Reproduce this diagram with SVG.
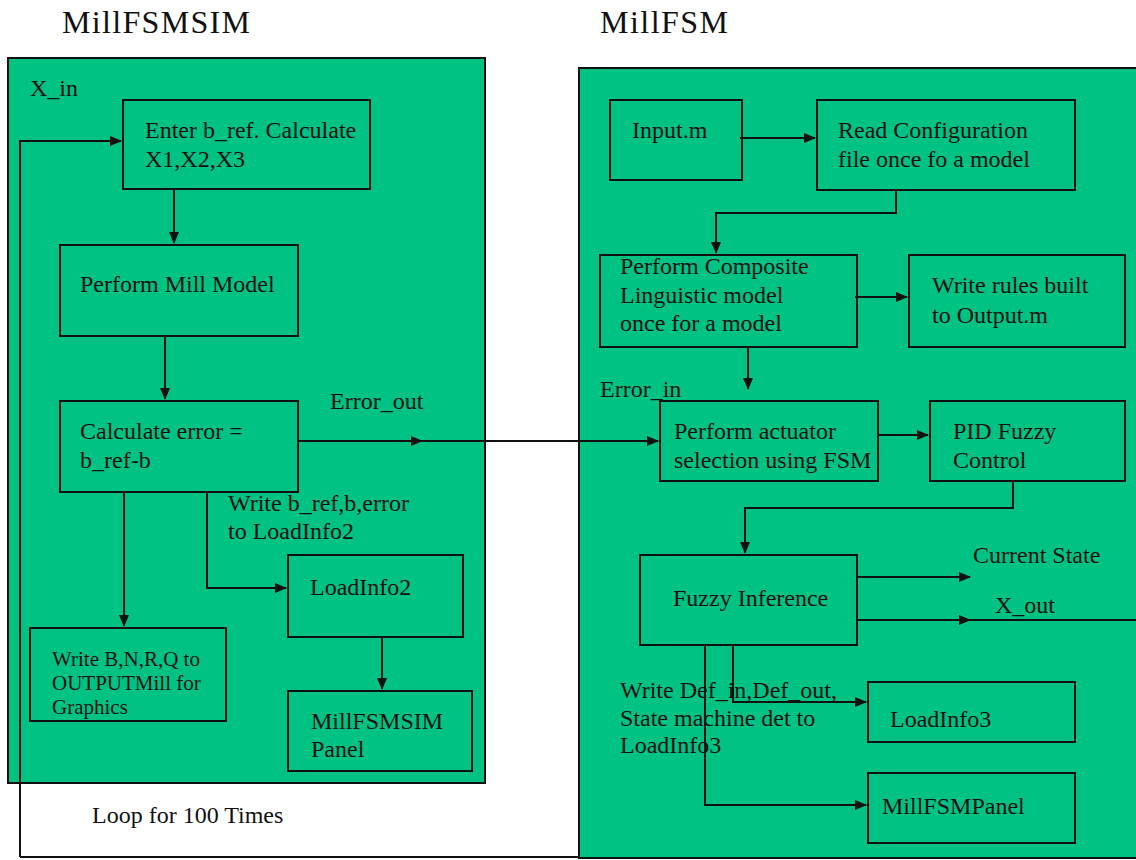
<svg xmlns="http://www.w3.org/2000/svg" width="1136" height="860" viewBox="0 0 1136 860">
<defs>
<style>
.panel{fill:#00C283;stroke:#111;stroke-width:2}
.box{fill:#00C283;stroke:#111;stroke-width:2}
.t{font-family:"Liberation Serif","Times New Roman",serif;font-size:24px;fill:#111}
.s{font-size:21px}
.title{font-family:"Liberation Serif","Times New Roman",serif;font-size:32px;fill:#111}
.c{fill:none;stroke:#111;stroke-width:2}
</style>
<marker id="ah" markerWidth="12" markerHeight="10" refX="11" refY="5" orient="auto" markerUnits="userSpaceOnUse">
<path d="M0,0 L12,5 L0,10 Z" fill="#111"/>
</marker>
</defs>
<rect width="1136" height="860" fill="#fff"/>
<text class="title" x="62" y="33" textLength="188">MillFSMSIM</text>
<text class="title" x="600" y="33" textLength="128">MillFSM</text>
<rect class="panel" x="8" y="58" width="477" height="725"/>
<rect class="panel" x="579" y="68" width="570" height="790"/>
<text class="t" x="30" y="96">X_in</text>
<text class="t" x="92" y="823">Loop for 100 Times</text>
<text class="t" x="330" y="409">Error_out</text>
<text class="t" x="228" y="511">Write b_ref,b,error</text>
<text class="t" x="228" y="539">to LoadInfo2</text>
<text class="t" x="600" y="397">Error_in</text>
<text class="t" x="973" y="563">Current State</text>
<text class="t" x="995" y="613">X_out</text>
<g id="n-enter"><rect class="box" x="123" y="100" width="247" height="89"/><text class="t" x="145" y="138">Enter b_ref. Calculate</text><text class="t" x="145" y="167">X1,X2,X3</text></g>
<g id="n-mill"><rect class="box" x="60" y="245" width="238" height="91"/><text class="t" x="80" y="292">Perform Mill Model</text></g>
<g id="n-calc"><rect class="box" x="60" y="401" width="238" height="91"/><text class="t" x="80" y="439">Calculate error =</text><text class="t" x="80" y="468">b_ref-b</text></g>
<g id="n-writeb"><rect class="box" x="30" y="628" width="196" height="93"/><text class="t s" x="52" y="666">Write B,N,R,Q to</text><text class="t s" x="52" y="690">OUTPUTMill for</text><text class="t s" x="52" y="714">Graphics</text></g>
<g id="n-li2"><rect class="box" x="288" y="555" width="175" height="82"/><text class="t" x="310" y="595">LoadInfo2</text></g>
<g id="n-simpanel"><rect class="box" x="288" y="691" width="184" height="80"/><text class="t" x="311" y="729">MillFSMSIM</text><text class="t" x="311" y="757">Panel</text></g>
<g id="n-input"><rect class="box" x="610" y="100" width="132" height="80"/><text class="t" x="632" y="138">Input.m</text></g>
<g id="n-read"><rect class="box" x="817" y="100" width="258" height="90"/><text class="t" x="838" y="138">Read Configuration</text><text class="t" x="838" y="167">file once fo a model</text></g>
<g id="n-comp"><rect class="box" x="600" y="255" width="257" height="92"/><text class="t" x="620" y="274">Perform Composite</text><text class="t" x="620" y="303">Linguistic model</text><text class="t" x="620" y="331">once for a model</text></g>
<g id="n-rules"><rect class="box" x="909" y="255" width="216" height="92"/><text class="t" x="932" y="293">Write rules built</text><text class="t" x="932" y="323">to Output.m</text></g>
<g id="n-act"><rect class="box" x="660" y="401" width="218" height="80"/><text class="t" x="674" y="439">Perform actuator</text><text class="t" x="674" y="468">selection using FSM</text></g>
<g id="n-pid"><rect class="box" x="930" y="401" width="195" height="80"/><text class="t" x="953" y="439">PID Fuzzy</text><text class="t" x="953" y="468">Control</text></g>
<g id="n-fuzzy"><rect class="box" x="640" y="555" width="217" height="90"/><text class="t" x="673" y="606">Fuzzy Inference</text></g>
<g id="n-li3"><rect class="box" x="868" y="682" width="207" height="60"/><text class="t" x="890" y="727">LoadInfo3</text></g>
<g id="n-fsmpanel"><rect class="box" x="868" y="773" width="207" height="70"/><text class="t" x="882" y="814">MillFSMPanel</text></g>
<g id="connectors">
<path class="c" d="M20,857 L20,141 L121,141" marker-end="url(#ah)"/>
<path class="c" d="M20,857 L579,857"/>
<path class="c" d="M174,189 L174,243" marker-end="url(#ah)"/>
<path class="c" d="M165,336 L165,399" marker-end="url(#ah)"/>
<path class="c" d="M298,441 L422,441" marker-end="url(#ah)"/>
<path class="c" d="M410,441 L658,441" marker-end="url(#ah)"/>
<path class="c" d="M124,492 L124,626" marker-end="url(#ah)"/>
<path class="c" d="M207,492 L207,588 L286,588" marker-end="url(#ah)"/>
<path class="c" d="M382,637 L382,689" marker-end="url(#ah)"/>
<path class="c" d="M740,138 L815,138" marker-end="url(#ah)"/>
<path class="c" d="M896,190 L896,213 L716,213 L716,253" marker-end="url(#ah)"/>
<path class="c" d="M855,297 L907,297" marker-end="url(#ah)"/>
<path class="c" d="M748,347 L748,389" marker-end="url(#ah)"/>
<path class="c" d="M878,435 L928,435" marker-end="url(#ah)"/>
<path class="c" d="M1013,481 L1013,508 L745,508 L745,553" marker-end="url(#ah)"/>
<path class="c" d="M857,577 L970,577" marker-end="url(#ah)"/>
<path class="c" d="M857,620 L970,620" marker-end="url(#ah)"/>
<path class="c" d="M960,620 L1136,620"/>
<path class="c" d="M733,645 L733,702 L866,702" marker-end="url(#ah)"/>
<path class="c" d="M705,645 L705,805 L866,805" marker-end="url(#ah)"/>
</g>
<text class="t" x="620" y="698">Write Def_in,Def_out,</text>
<text class="t" x="620" y="726">State machine det to</text>
<text class="t" x="620" y="753">LoadInfo3</text>
</svg>
